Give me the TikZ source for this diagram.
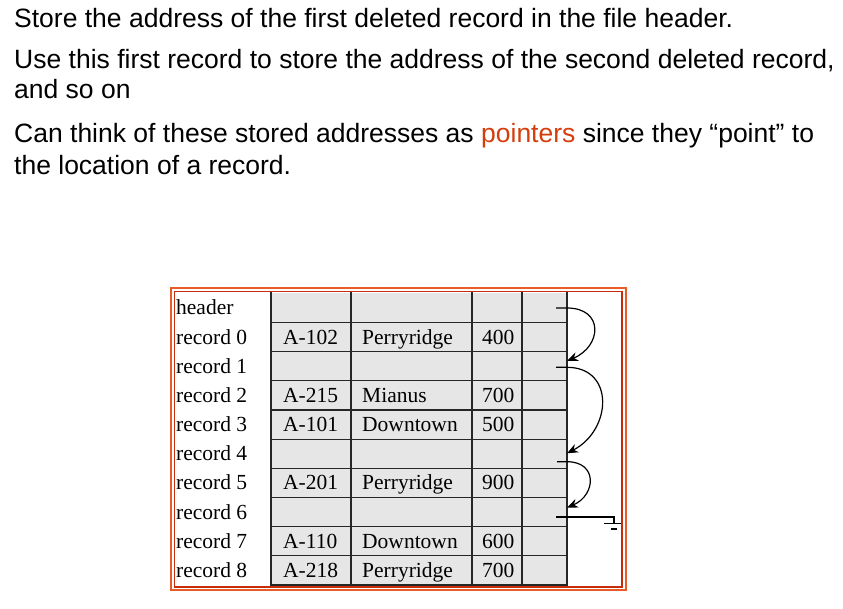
\documentclass[tikz,border=0pt]{standalone}
\usepackage{fontspec}
\setmainfont{Liberation Serif}
\newfontfamily\arialf{Liberation Sans}
\usetikzlibrary{arrows.meta}
\definecolor{ptrred}{RGB}{212,62,12}
\definecolor{frameouter}{RGB}{232,92,40}
\definecolor{frameinner}{RGB}{200,45,10}
\definecolor{cellgray}{RGB}{230,230,230}
\begin{document}
\begin{tikzpicture}[x=1pt,y=-1pt,
  headtxt/.style={font=\arialf\fontsize{26.5}{31}\selectfont, anchor=base west, inner sep=0pt},
  lab/.style={font=\fontsize{21.5}{24}\selectfont, anchor=base west, inner sep=0pt},
  gridline/.style={draw=black!85, line width=1.2pt},
  ptr/.style={line width=1.2pt, -{Stealth[length=11pt,width=9pt,inset=3.5pt]}},
  wire/.style={line width=1.2pt}
]
\useasboundingbox (0,0) rectangle (843,608);
\fill[white] (0,0) rectangle (843,608);

\node[headtxt] (t1) at (14,27) {Store the address of the first deleted record in the file header.};
\node[headtxt] (t2) at (14,68) {Use this first record to store the address of the second deleted record,};
\node[headtxt] (t3) at (14,98) {and so on};
\node[headtxt] (t4) at (14,142) {Can think of these stored addresses as \textcolor{ptrred}{pointers} since they “point” to};
\node[headtxt] (t5) at (14,174) {the location of a record.};

% frame
\draw[frameouter, line width=2pt] (171,288) rectangle (625.5,590);
\draw[frameinner, line width=1.5pt] (174.5,291.5) rectangle (622.2,586.8);

% grid
\fill[cellgray] (271,293.3) rectangle (567,585);
\foreach \x in {271,351,472,522,567} \draw[gridline] (\x,292) -- (\x,585.5);
\foreach \i in {1,...,10} \draw[gridline] (271,293.3+29.17*\i) -- (567,293.3+29.17*\i);

% row labels
\foreach \t [count=\i from 0] in {header,record 0,record 1,record 2,record 3,record 4,record 5,record 6,record 7,record 8}
  \node[lab] (l\i) at (176,293.3+29.17*\i+21.6) {\t};

% cell contents
\foreach \r/\a/\b/\c in {1/A-102/Perryridge/400,3/A-215/Mianus/700,4/A-101/Downtown/500,6/A-201/Perryridge/900,8/A-110/Downtown/600,9/A-218/Perryridge/700} {
  \node[lab] (a\r) at (283,293.3+29.17*\r+21.6) {\a};
  \node[lab] (b\r) at (362,293.3+29.17*\r+21.6) {\b};
  \node[lab] (n\r) at (482,293.3+29.17*\r+21.6) {\c};
}

% pointer chain
\coordinate (s0) at (556,308);
\coordinate (e0) at (567,308);
\coordinate (p1) at (567,361);
\coordinate (s1) at (556,367.3);
\coordinate (e1) at (567,367.3);
\coordinate (p4) at (567,453.3);
\coordinate (s4) at (557,461.7);
\coordinate (e4) at (567,461.7);
\coordinate (p6) at (567,507.7);
\coordinate (s6) at (556,517);
\coordinate (g1) at (614,517);
\coordinate (g2) at (614,523.5);
\coordinate (gl) at (604,523.5);
\coordinate (gr) at (621,523.5);
\coordinate (gs1) at (611,529);
\coordinate (gs2) at (617,529);

\draw[ptr] (s0) -- (e0) .. controls (604,308) and (602,346) .. (p1);
\draw[ptr] (s1) -- (e1) .. controls (615,367.3) and (612,430) .. (p4);
\draw[ptr] (s4) -- (e4) .. controls (598,461.7) and (596,495) .. (p6);
\draw[wire] (s6) -- (g1) -- (g2);
\draw[wire] (gl) -- (gr);
\draw[wire] (gs1) -- (gs2);
\end{tikzpicture}
\end{document}
